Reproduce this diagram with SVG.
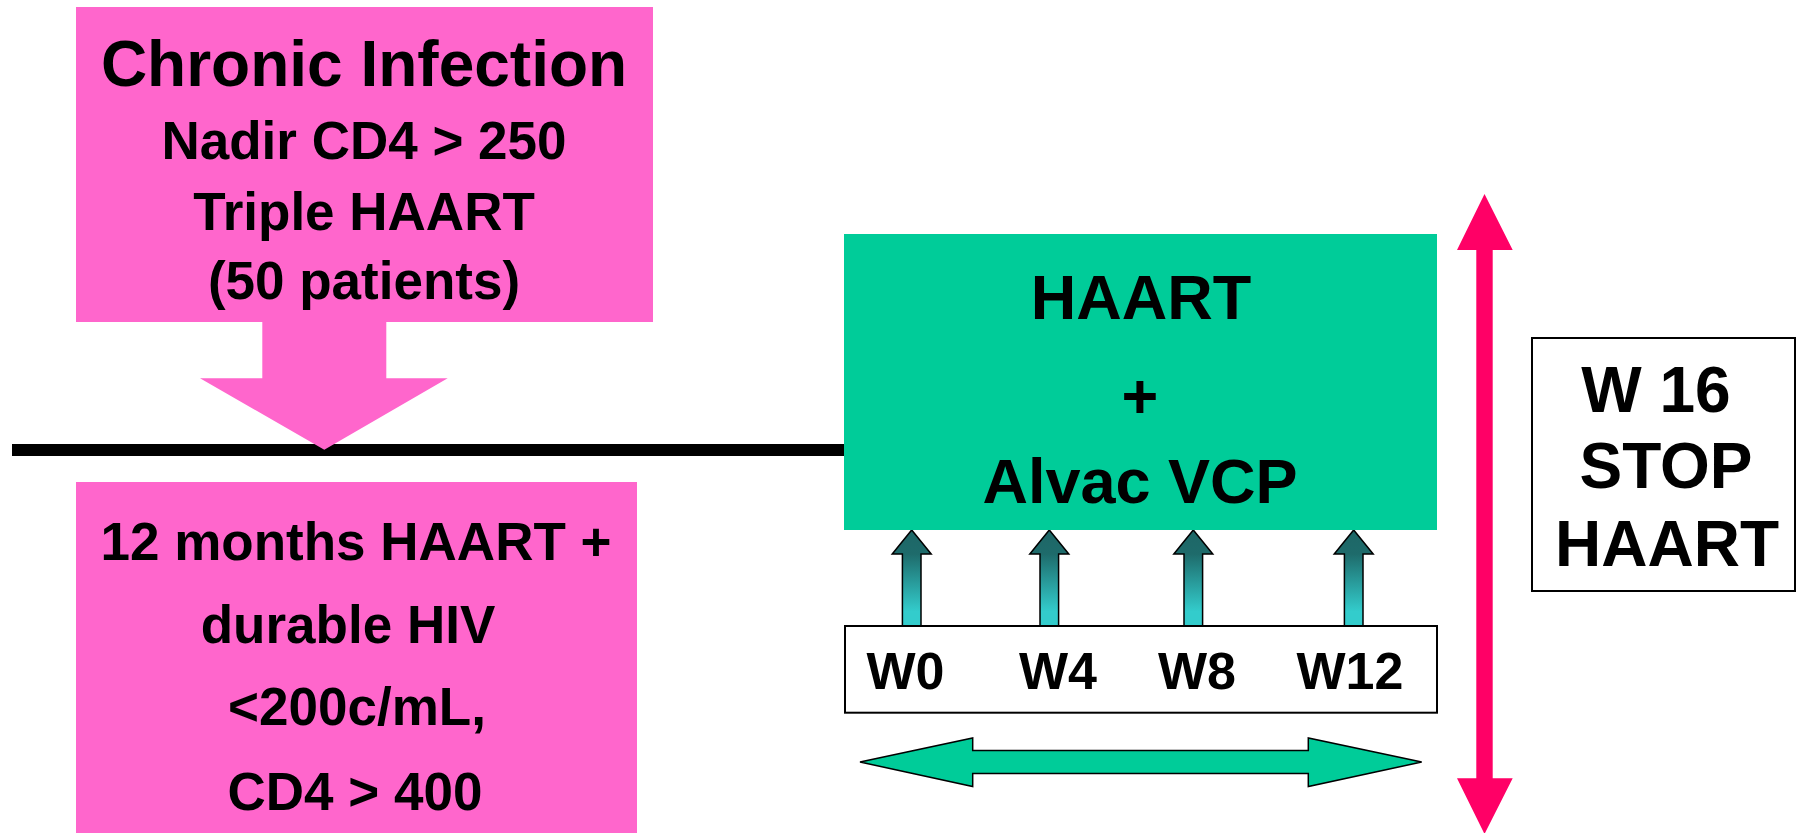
<svg xmlns="http://www.w3.org/2000/svg" width="1798" height="833" viewBox="0 0 1798 833">
  <style>
    text { font-family: "Liberation Sans", Arial, sans-serif; font-weight: bold; fill: #000; text-anchor: middle; }
    .pink { fill: #FF66CC; }
    .green { fill: #00CC99; }
    .wbox { fill: #FFFFFF; stroke: #000; stroke-width: 2; }
    .t64 { font-size: 64px; }
    .t63 { font-size: 63px; }
    .t53 { font-size: 53px; }
    .t52 { font-size: 52px; }
  </style>
  <defs>
    <linearGradient id="tealGrad" x1="0" y1="0" x2="0" y2="1">
      <stop offset="0" stop-color="#1E6666"/>
      <stop offset="0.25" stop-color="#1E6B6B"/>
      <stop offset="0.85" stop-color="#33CCCC"/>
      <stop offset="1" stop-color="#33CCCC"/>
    </linearGradient>
    <path id="upArrow" d="M0,0 L19.5,24 L9.3,24 L9.3,96 L-9.3,96 L-9.3,24 L-19.5,24 Z" fill="url(#tealGrad)" stroke="#000" stroke-width="1.5" stroke-linejoin="miter"/>
  </defs>

  <g id="connectors">
    <line x1="12" y1="450" x2="846" y2="450" stroke="#000" stroke-width="12"/>
    <path class="pink" d="M262.3,320 V378.3 H200 L324.3,449.7 L447.7,378.3 H386.3 V320 Z"/>
    <use href="#upArrow" transform="translate(911.7,530)"/>
    <use href="#upArrow" transform="translate(1049.3,530)"/>
    <use href="#upArrow" transform="translate(1193.3,530)"/>
    <use href="#upArrow" transform="translate(1353.7,530)"/>
    <path class="green" stroke="#000" stroke-width="1.5" d="M860,762 L972.7,738 L972.7,750.5 L1308.3,750.5 L1308.3,738 L1421.7,762 L1308.3,786.5 L1308.3,773.5 L972.7,773.5 L972.7,786.5 Z"/>
    <path fill="#FF0066" d="M1484.5,194 L1512.7,250 L1492.7,250 L1492.7,778.3 L1512.7,778.3 L1484.5,834 L1457,778.3 L1476.3,778.3 L1476.3,250 L1457,250 Z"/>
  </g>

  <g id="chronic-infection">
    <rect class="pink" x="76" y="7" width="577" height="315"/>
    <text class="t64" x="364" y="86">Chronic Infection</text>
    <text class="t53" x="364" y="159">Nadir CD4 &gt; 250</text>
    <text class="t53" x="364" y="230">Triple HAART</text>
    <text class="t53" x="364" y="299">(50 patients)</text>
  </g>

  <g id="inclusion-criteria">
    <rect class="pink" x="76" y="482" width="561" height="351"/>
    <text class="t53" x="356" y="560">12 months HAART +</text>
    <text class="t53" x="348" y="643">durable HIV</text>
    <text class="t53" x="357" y="725">&lt;200c/mL,</text>
    <text class="t53" x="355" y="810">CD4 &gt; 400</text>
  </g>

  <g id="haart-alvac">
    <rect class="green" x="844" y="234" width="593" height="296"/>
    <text class="t63" x="1141" y="319">HAART</text>
    <text class="t63" x="1140" y="418">+</text>
    <text class="t63" x="1140" y="503">Alvac VCP</text>
  </g>

  <g id="weeks">
    <rect class="wbox" x="845" y="626" width="592" height="86.7"/>
    <text class="t52" x="905.5" y="689">W0</text>
    <text class="t52" x="1058" y="689">W4</text>
    <text class="t52" x="1197" y="689">W8</text>
    <text class="t52" x="1350" y="689">W12</text>
  </g>

  <g id="stop-haart">
    <rect class="wbox" x="1532" y="338" width="263" height="253"/>
    <text class="t64" x="1656" y="412">W 16</text>
    <text class="t64" x="1666" y="488">STOP</text>
    <text class="t64" x="1667" y="566">HAART</text>
  </g>
</svg>
